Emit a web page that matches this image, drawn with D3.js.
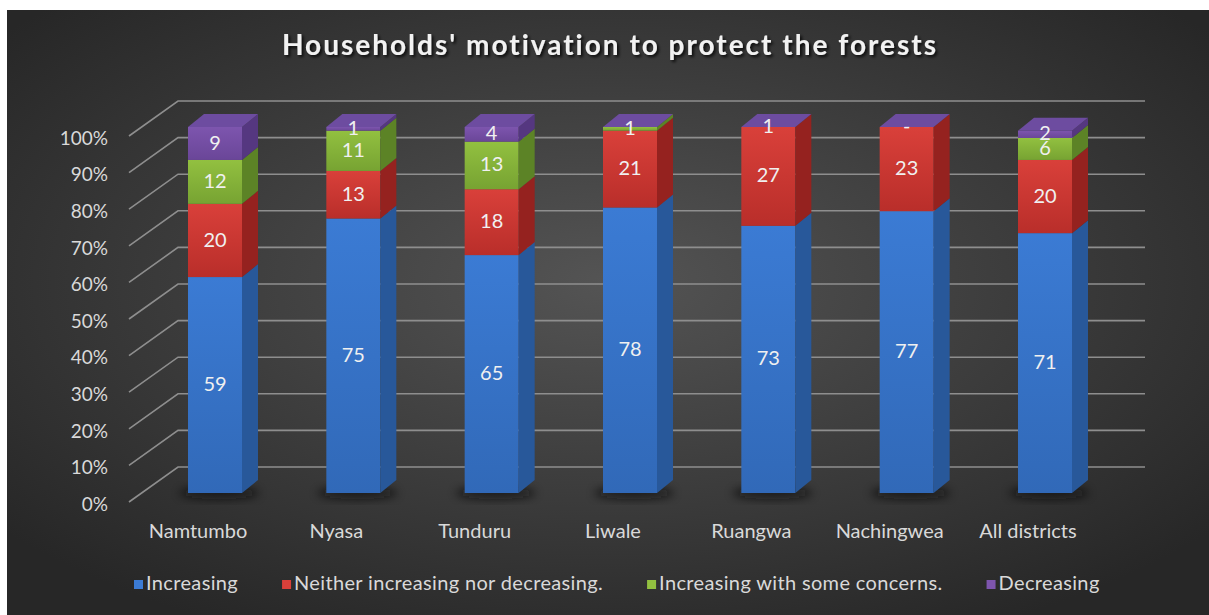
<!DOCTYPE html>
<html><head><meta charset="utf-8">
<script src="https://cdn.jsdelivr.net/npm/d3@7"></script>
<style>
html,body{margin:0;padding:0;background:#fff;}
svg{display:block;}
text{font-family:Lato,"Open Sans",sans-serif;}
</style></head>
<body>
<svg id="chart" width="1209" height="615"></svg>
<script>
const categories = ["Namtumbo","Nyasa","Tunduru","Liwale","Ruangwa","Nachingwea","All districts"];
const seriesNames = ["Increasing","Neither increasing nor decreasing.","Increasing with some concerns.","Decreasing"];
const increasing = [59,75,65,78,73,77,71];
const neither = [20,13,18,21,27,23,20];
const concerns = [12,11,13,1,1,0,6];
const decreasing = [9,1,4,null,null,null,2];
const yTicks = [0,10,20,30,40,50,60,70,80,90,100];
const title = "Households' motivation to protect the forests";

const seriesValues = [increasing, neither, concerns, decreasing];
const colors = [
  {front:"#3b7bd4", front2:"#3169b8", side:"#28589a", top:"#4a88dc"},
  {front:"#d9403a", front2:"#b92e2a", side:"#95221f", top:"#e0504a"},
  {front:"#92c040", front2:"#77a332", side:"#5c8326", top:"#a0cc50"},
  {front:"#7d55ae", front2:"#6a4698", side:"#553780", top:"#6d4ca0"}
];

const svg = d3.select("#chart");
const defs = svg.append("defs");

// background
const bg = defs.append("radialGradient").attr("id","bg").attr("cx","50%").attr("cy","45%").attr("r","65%");
bg.append("stop").attr("offset","0%").attr("stop-color","#545454");
bg.append("stop").attr("offset","100%").attr("stop-color","#272727");
svg.append("rect").attr("x",7).attr("y",10).attr("width",1202).attr("height",605).attr("fill","url(#bg)");

// gradients for bar faces
colors.forEach((c,i)=>{
  const g = defs.append("linearGradient").attr("id","f"+i).attr("x1",0).attr("y1",0).attr("x2",0).attr("y2",1);
  g.append("stop").attr("offset","0%").attr("stop-color",c.front);
  g.append("stop").attr("offset","100%").attr("stop-color",c.front2);
});
const shadowF = defs.append("filter").attr("id","sh").attr("x","-50%").attr("y","-50%").attr("width","200%").attr("height","200%");
shadowF.append("feGaussianBlur").attr("stdDeviation",5);
const tShadow = defs.append("filter").attr("id","ts").attr("x","-10%").attr("y","-30%").attr("width","120%").attr("height","160%");
tShadow.append("feDropShadow").attr("dx",2).attr("dy",2).attr("stdDeviation",1.5).attr("flood-color","#000").attr("flood-opacity",0.8);

// scales
const y = d3.scaleLinear().domain([0,100]).range([493,127]);
const x = d3.scalePoint().domain(categories).range([215,1045]);
const barW = 54, dX = 16, dY = 13;   // bar depth
const wallDX = 49, wallDY = 35;      // floor depth for gridlines
const wallX0 = 129;                  // front-left of gridlines
const wallX1 = 1145;                 // right end of back wall
const frontOff = 9;                  // label plane below bar front plane

// gridlines
const grid = svg.append("g").attr("stroke","#8e8e8e").attr("stroke-width",1.6).attr("fill","none");
yTicks.forEach(v=>{
  const yf = y(v)+frontOff;
  const yb = yf - wallDY;
  grid.append("path").attr("d",`M${wallX0},${yf}L${wallX0+wallDX},${yb}L${wallX1},${yb}`);
});

// y labels
svg.append("g").selectAll("text").data(yTicks).join("text")
  .attr("x",108).attr("y",v=>y(v)+frontOff+4)
  .attr("text-anchor","end").attr("dominant-baseline","middle")
  .attr("fill","#d9d9d9").attr("font-size",19).text(v=>v+"%");

// bar shadows
svg.append("g").selectAll("ellipse").data(categories).join("ellipse")
  .attr("cx",c=>x(c)+4).attr("cy",493).attr("rx",40).attr("ry",6)
  .attr("fill","#111").attr("opacity",0.7).attr("filter","url(#sh)");

// bars
const bars = svg.append("g");
categories.forEach((cat,ci)=>{
  const cx = x(cat);
  const x0 = cx - barW/2, x1 = cx + barW/2;
  const g = bars.append("g");
  let cum = 0;
  const segs = [];
  seriesValues.forEach((arr,si)=>{
    const v = arr[ci];
    if (v === null) return;
    const v0 = cum, v1 = Math.min(100, cum + v);
    cum += v;
    segs.push({si, v, v0, v1});
  });
  segs.forEach(s=>{
    if (s.v1 - s.v0 <= 0) return;
    const c = colors[s.si];
    const yt = y(s.v1), yb = y(s.v0);
    g.append("rect").attr("x",x0).attr("y",yt).attr("width",barW).attr("height",yb-yt).attr("fill",`url(#f${s.si})`);
    g.append("path").attr("d",`M${x1},${yb}L${x1},${yt}L${x1+dX},${yt-dY}L${x1+dX},${yb-dY}Z`).attr("fill",c.side);
  });
  // top cap
  const topV = Math.min(100, cum);
  const yt = y(topV);
  const capC = colors[3];
  g.append("path").attr("d",`M${x0},${yt}L${x1},${yt}L${x1+dX},${yt-dY}L${x0+dX},${yt-dY}Z`).attr("fill",capC.top);
  // labels
  segs.forEach(s=>{
    const ym = (y(s.v0)+y(s.v1))/2;
    g.append("text").attr("x",cx).attr("y",ym+1).attr("text-anchor","middle").attr("dominant-baseline","middle")
      .attr("fill","#f0f0f0").attr("font-size",20)
      .text(s.v === 0 ? "-" : s.v);
  });
});

// category labels
svg.append("g").selectAll("text").data(categories).join("text")
  .attr("x",c=>x(c)-17).attr("y",533).attr("text-anchor","middle").attr("dominant-baseline","middle")
  .attr("fill","#d9d9d9").attr("font-size",20).text(c=>c);

// title
svg.append("text").attr("x",610).attr("y",48).attr("text-anchor","middle").attr("dominant-baseline","middle")
  .attr("fill","#f2f2f2").attr("font-size",28).attr("font-weight","bold").attr("filter","url(#ts)")
  .attr("letter-spacing",2).text(title);

// legend
const leg = svg.append("g");
let lx = 134;
seriesNames.forEach((n,i)=>{
  leg.append("rect").attr("x",lx).attr("y",580).attr("width",9).attr("height",9).attr("fill",colors[i].front);
  const t = leg.append("text").attr("x",lx+12).attr("y",585).attr("dominant-baseline","middle")
    .attr("fill","#d9d9d9").attr("font-size",20).attr("letter-spacing",0.35).text(n);
  lx += 12 + t.node().getComputedTextLength() + 44;
});
</script>
</body></html>
